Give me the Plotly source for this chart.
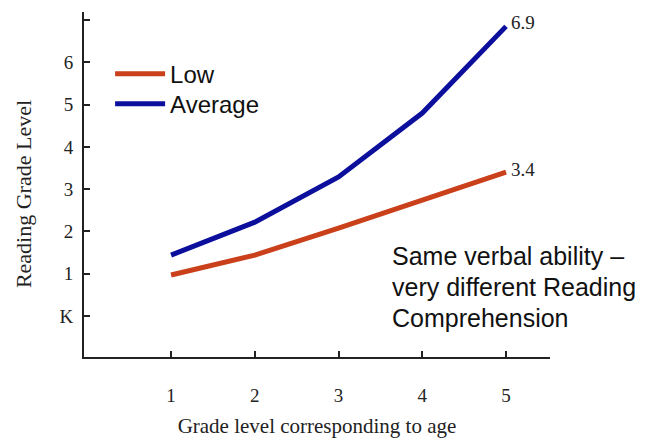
import plotly.graph_objects as go

grades = [1, 2, 3, 4, 5]
low = [0.97, 1.44, 2.08, 2.74, 3.4]
average = [1.44, 2.22, 3.29, 4.8, 6.85]
y_tickvals = [0, 1, 2, 3, 4, 5, 6, 7]
y_ticktext = ["K", "1", "2", "3", "4", "5", "6", ""]
end_labels = ["3.4", "6.9"]
note_lines = ["Same verbal ability –", "very different Reading", "Comprehension"]

fig = go.Figure()
fig.add_trace(go.Scatter(x=grades, y=low, mode="lines", name="Low",
                         line=dict(color="#C9401A", width=5), legend="legend"))
fig.add_trace(go.Scatter(x=grades, y=average, mode="lines", name="Average",
                         line=dict(color="#0B0F9C", width=5), legend="legend2"))

fig.add_annotation(x=grades[-1], y=low[-1], text=end_labels[0], showarrow=False,
                   xanchor="left", xshift=3, yshift=3,
                   font=dict(family="Liberation Serif", size=19, color="#222"))
fig.add_annotation(x=grades[-1], y=average[-1], text=end_labels[1], showarrow=False,
                   xanchor="left", xshift=3, yshift=4,
                   font=dict(family="Liberation Serif", size=19, color="#222"))
for i, line in enumerate(note_lines):
    fig.add_annotation(x=3.615, y=1.79, xref="x", yref="y", text=line,
                       showarrow=False, xanchor="left", yanchor="top", align="left",
                       yshift=-31 * i,
                       font=dict(family="Liberation Sans", size=25, color="#111"))

# y-axis title placed as a rotated annotation
fig.add_annotation(x=-0.131, y=0.472, xref="paper", yref="paper",
                   text="Reading Grade Level", textangle=-90, showarrow=False,
                   xanchor="center", yanchor="middle",
                   font=dict(family="Liberation Serif", size=22, color="#222"))

axis_common = dict(showline=True, linecolor="#222", linewidth=2, ticks="inside",
                   ticklen=6, tickwidth=2, tickcolor="#222", showgrid=False,
                   zeroline=False, mirror=False, automargin=False,
                   tickfont=dict(family="Liberation Serif", size=19, color="#222"))

legend_common = dict(xanchor="left", yanchor="top", itemwidth=50,
                     bgcolor="rgba(0,0,0,0)",
                     font=dict(family="Liberation Sans", size=24, color="#111"))

fig.update_layout(
    width=640, height=434,
    margin=dict(l=76, r=98, t=4, b=85),
    paper_bgcolor="white", plot_bgcolor="white",
    showlegend=True,
    legend=dict(x=0.056, y=0.885, **legend_common),
    legend2=dict(x=0.056, y=0.798, **legend_common),
    xaxis=dict(range=[-0.04, 5.525], tickvals=grades, ticklabelstandoff=20,
               title=dict(text="Grade level corresponding to age", standoff=14,
                          font=dict(family="Liberation Serif", size=21, color="#222")),
               **axis_common),
    yaxis=dict(range=[-0.97, 7.19], tickvals=y_tickvals, ticktext=y_ticktext,
               ticklabelstandoff=5, **axis_common),
)

fig.write_html("out.html")
